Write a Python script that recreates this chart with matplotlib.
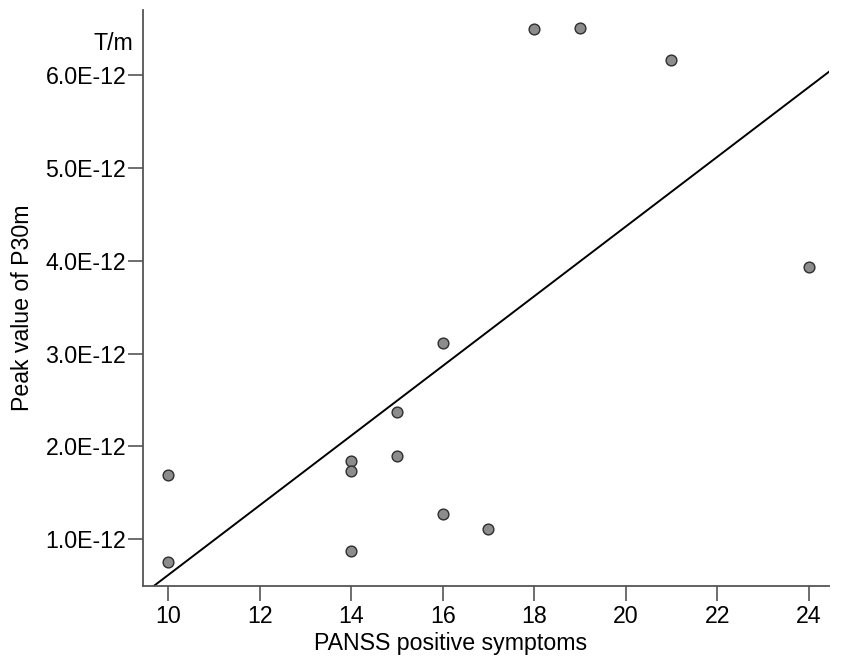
import matplotlib
matplotlib.use('Agg')
import matplotlib.pyplot as plt
import numpy as np
from matplotlib.ticker import FuncFormatter

plt.rcParams['font.family'] = ['Liberation Sans', 'DejaVu Sans']

# PANSS positive score and P30m peak value (T/m)
panss = np.array([10, 10, 14, 14, 14, 15, 15, 16, 16, 17, 18, 19, 21, 24])
peak = np.array([1.69, 0.75, 1.84, 1.74, 0.87, 2.37, 1.90, 3.11, 1.27, 1.11,
                 6.50, 6.51, 6.16, 3.93]) * 1e-12

xticks = [10, 12, 14, 16, 18, 20, 22, 24]
yticks = np.array([1.0, 2.0, 3.0, 4.0, 5.0, 6.0]) * 1e-12

fs = 16.7

fig = plt.figure(figsize=(8.51, 6.67), dpi=100)
ax = fig.add_axes([0.168, 0.1214, 0.806, 0.8636])

ax.scatter(panss, peak, s=60, facecolor='#8c8c8c', edgecolor='#2e2e2e',
           linewidth=1.0, zorder=3)

# linear fit line
k, m = np.polyfit(panss, peak, 1)
xl = np.array([9.0, 25.0])
ax.plot(xl, k * xl + m, color='black', linewidth=1.4, zorder=2)

ax.set_xlim(9.45, 24.44)
ax.set_ylim(0.496e-12, 6.70e-12)
ax.set_xticks(xticks)
ax.set_yticks(yticks)
ax.yaxis.set_major_formatter(FuncFormatter(lambda v, p: '%.1fE-12' % (v * 1e12)))

for side in ['top', 'right']:
    ax.spines[side].set_visible(False)
for side in ['left', 'bottom']:
    ax.spines[side].set_color('#555555')
    ax.spines[side].set_linewidth(1.3)
ax.tick_params(axis='both', direction='out', length=11, width=1.2, color='#555555',
               labelsize=fs, pad=1)
ax.tick_params(axis='x', pad=3)

ax.set_xlabel('PANSS positive symptoms', fontsize=fs, va='center')
ax.set_ylabel('Peak value of P30m', fontsize=fs, va='center')
ax.xaxis.set_label_coords(0.448, -0.099)
ax.yaxis.set_label_coords(-0.176, 0.483)

fig.text(133 / 851, 1 - 43 / 667, 'T/m', fontsize=fs, ha='right', va='center')

fig.savefig('out.png', dpi=100)
